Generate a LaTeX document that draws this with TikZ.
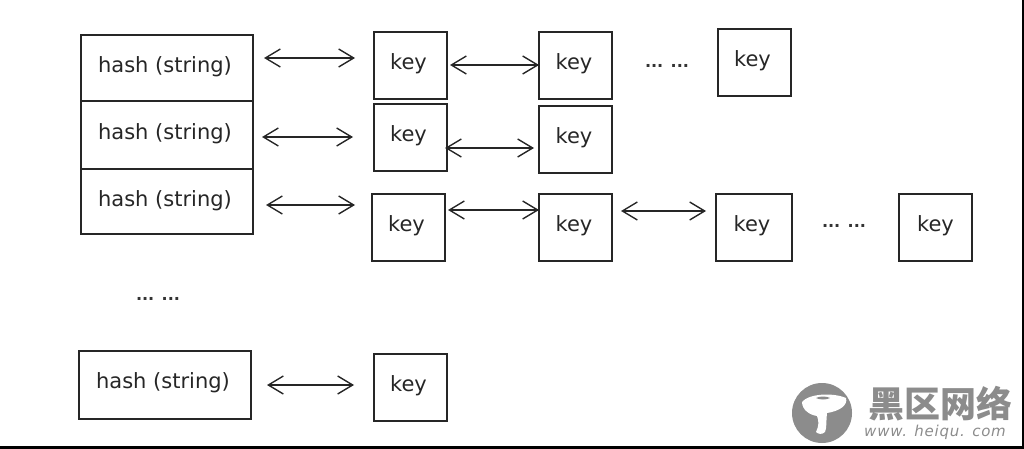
\documentclass[tikz,border=0pt]{standalone}
\usepackage{fontspec}
\setmainfont{DejaVu Sans}
\newfontfamily\cjkfont{Noto Sans CJK SC}
\usepackage{xcolor}
\usepackage{tikz}
\usetikzlibrary{arrows.meta}

\definecolor{markgray}{gray}{0.55}

\begin{document}
\begin{tikzpicture}[
  x=1pt, y=-1pt,
  hashbox/.style={rectangle, draw=black!85, line width=1.5pt, minimum width=172pt,
                  inner sep=0pt, outer sep=0pt, text=black!85, font=\fontsize{21}{21}\selectfont,
                  text height=16pt, text depth=7pt, anchor=north west},
  keybox/.style={rectangle, draw=black!85, line width=1.5pt, minimum width=73pt,
                 minimum height=67pt, inner sep=0pt, outer sep=0pt, text=black!85,
                 font=\fontsize{21}{21}\selectfont,
                 text height=16pt, text depth=8.5pt, anchor=north west},
  dots/.style={inner sep=0pt, text=black!80, font=\fontsize{16}{16}\bfseries\selectfont},
  link/.style={{Straight Barb[length=15pt,width=18pt,line width=1.4pt]}-{Straight Barb[length=15pt,width=18pt,line width=1.4pt]},
               line width=1.4pt, draw=black!85},
]
  \useasboundingbox (0,0) rectangle (1024,449);

  % -- Hash column --
  \node[hashbox, minimum height=66pt] (hash1) at (81,35) {hash (string)\kern4pt};
  \node[hashbox, minimum height=68pt] (hash2) at (81,101) {hash (string)\kern4pt};
  \node[hashbox, minimum height=65pt] (hash3) at (81,169) {hash (string)\kern4pt};
  \node[dots] (hdots) at (158,299) {... ...};
  \node[hashbox, minimum height=68pt, text depth=9pt] (hash4) at (79,351) {hash (string)\kern4pt};

  % -- Key rows --
  \node[keybox] (key11) at (374,32) {key\kern4pt};
  \node[keybox] (key12) at (539,32) {key\kern3pt};
  \node[dots] (dots1) at (667,66) {... ...};
  \node[keybox] (key13) at (718,29) {key\kern4pt};

  \node[keybox] (key21) at (374,104) {key\kern4pt};
  \node[keybox] (key22) at (539,106) {key\kern3pt};

  \node[keybox] (key31) at (372,194) {key\kern4pt};
  \node[keybox] (key32) at (539,194) {key\kern3pt};
  \node[keybox, minimum width=76pt] (key33) at (716,194) {key\kern4pt};
  \node[dots] (dots3) at (844,226) {... ...};
  \node[keybox] (key34) at (899,194) {key};

  \node[keybox] (key41) at (374,354) {key\kern4pt};

  % Connections
  \draw[link] ([xshift=11pt]hash1.east |- 0,58) -- ([xshift=-19pt]key11.west |- 0,58);
  \draw[link] ([xshift=9pt]hash2.east |- 0,137) -- ([xshift=-21pt]key21.west |- 0,137);
  \draw[link] ([xshift=13pt]hash3.east |- 0,205) -- ([xshift=-17pt]key31.west |- 0,205);
  \draw[link] ([xshift=16pt]hash4.east |- 0,385) -- ([xshift=-20pt]key41.west |- 0,385);
  \draw[link] ([xshift=3pt]key11.east |- 0,65) -- (key12.west |- 0,65);
  \draw[link] ([xshift=-2pt]key21.east |- 0,148) -- ([xshift=-5pt]key22.west |- 0,148);
  \draw[link] ([xshift=3pt]key31.east |- 0,210) -- (key32.west |- 0,210);
  \draw[link] ([xshift=9pt]key32.east |- 0,211) -- ([xshift=-10pt]key33.west |- 0,211);

  % Border
  \draw[line width=3pt, black] (1023,0) -- (1023,447.5) -- (0,447.5);

  % Watermark
  \fill[markgray] (822,413) circle (30pt);
  \fill[white] (802,402) .. controls (808,394) and (832,392) .. (846,398)
    .. controls (848,405) and (840,411) .. (827,413)
    .. controls (826,420) and (827,428) .. (825,432)
    .. controls (822,435) and (818,434) .. (816,432)
    .. controls (819,426) and (819,421) .. (817,416)
    .. controls (810,415) and (802,410) .. (802,402);
  \fill[markgray] (816,398) .. controls (820,396) and (826,396) .. (830,398)
    .. controls (826,400) and (820,400) .. (816,398);
  \node[text=markgray, inner sep=0pt, font=\cjkfont\fontsize{36}{36}\bfseries\selectfont] (marktitle) at (940,404) {黑区网络};
  \node[text=markgray, inner sep=0pt, font=\itshape\fontsize{15}{15}\selectfont\addfontfeatures{LetterSpace=5}] (markurl) at (935,432) {www. heiqu. com};
\end{tikzpicture}
\end{document}
